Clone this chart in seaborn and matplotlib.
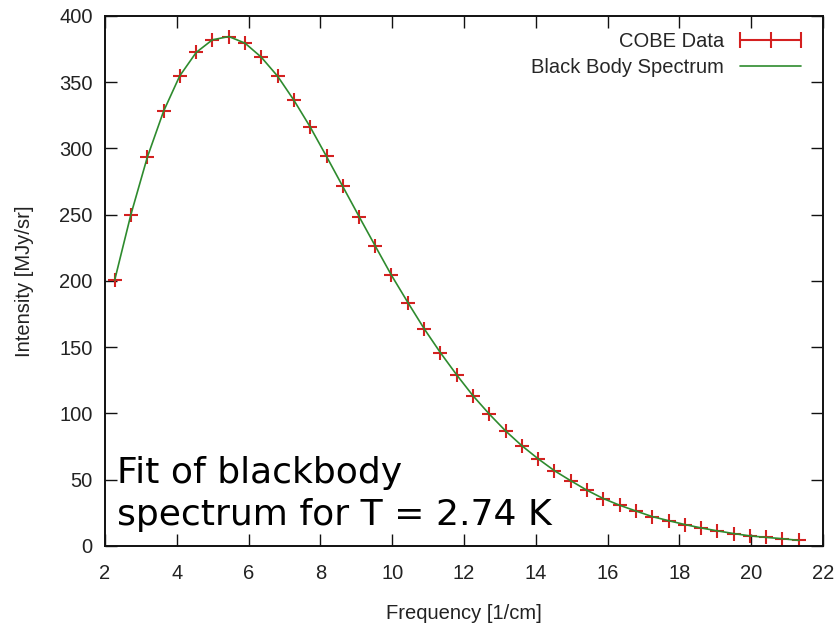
import numpy as np
import pandas as pd
import matplotlib
matplotlib.use("Agg")
import matplotlib.pyplot as plt
from matplotlib.lines import Line2D
import seaborn as sns

# COBE data points
freq = [2.27, 2.72, 3.18, 3.63, 4.08, 4.54, 4.99, 5.45, 5.90, 6.35, 6.81, 7.26,
        7.71, 8.17, 8.62, 9.08, 9.53, 9.98, 10.44, 10.89, 11.34, 11.80, 12.25,
        12.71, 13.16, 13.61, 14.07, 14.52, 14.97, 15.43, 15.88, 16.34, 16.79,
        17.24, 17.70, 18.15, 18.61, 19.06, 19.51, 19.97, 20.42, 20.87, 21.33]
intensity = [200.7, 250.0, 293.5, 328.0, 354.7, 372.5, 382.0, 384.5, 379.5, 369.0,
             354.5, 336.5, 316.5, 294.0, 271.5, 248.5, 226.3, 204.3, 183.6, 164.0,
             146.0, 129.0, 113.4, 99.4, 86.8, 75.7, 65.7, 56.8, 49.3, 42.0, 35.8,
             30.7, 26.4, 22.2, 19.1, 16.2, 13.6, 11.4, 9.4, 7.6, 6.5, 5.5, 4.2]
# fitted black body curve follows the same points
fit_intensity = intensity

xticks = [2, 4, 6, 8, 10, 12, 14, 16, 18, 20, 22]
yticks = [0, 50, 100, 150, 200, 250, 300, 350, 400]

df = pd.DataFrame({"freq": freq, "data": intensity, "fit": fit_intensity})

red = "#d42020"
green = "#2e8b2e"

sns.set_style("ticks")
plt.rcParams["font.family"] = ["Liberation Sans", "DejaVu Sans"]
plt.rcParams["xtick.direction"] = "in"
plt.rcParams["ytick.direction"] = "in"

fig = plt.figure(figsize=(8.38, 6.27), dpi=100)
ax = fig.add_axes([0.1253, 0.1292, 0.8568, 0.8453])

sns.scatterplot(data=df, x="freq", y="data", marker="+", s=110, color=red,
                linewidth=1.5, ax=ax, zorder=2)
sns.lineplot(data=df, x="freq", y="fit", color=green, linewidth=1.2, ax=ax, zorder=3)

ax.set_xlim(2, 22)
ax.set_ylim(0, 400)
ax.set_xticks(xticks)
ax.set_yticks(yticks)
ax.tick_params(axis="both", which="major", length=8.5, width=1.0, labelsize=14.5,
               top=True, right=True, color="#111111", labelcolor="#222222")
ax.tick_params(axis="x", pad=13)
ax.tick_params(axis="y", pad=9)
for sp in ax.spines.values():
    sp.set_visible(True)
    sp.set_linewidth(1.4)
    sp.set_color("#111111")

ax.set_xlabel("Frequency [1/cm]", fontsize=14.5, labelpad=15, color="#222222")
ax.set_ylabel("Intensity [MJy/sr]", fontsize=14.5, labelpad=18, color="#222222")

handles = [
    Line2D([], [], color=red, linewidth=1.5, marker="|", markersize=11, markeredgewidth=1.5),
    Line2D([], [], color=green, linewidth=1.2),
]
ax.legend(handles, ["COBE Data", "Black Body Spectrum"], loc="upper right",
          frameon=False, fontsize=14.5, numpoints=3, markerfirst=False,
          handlelength=3.6, labelspacing=0.35, borderaxespad=0.4, handletextpad=0.5)

ax.text(2.33, 15.8, "Fit of blackbody\nspectrum for T = 2.74 K",
        fontsize=26, family="DejaVu Sans", va="baseline", ha="left",
        color="black", linespacing=1.3)

fig.savefig("out.png", dpi=100)
